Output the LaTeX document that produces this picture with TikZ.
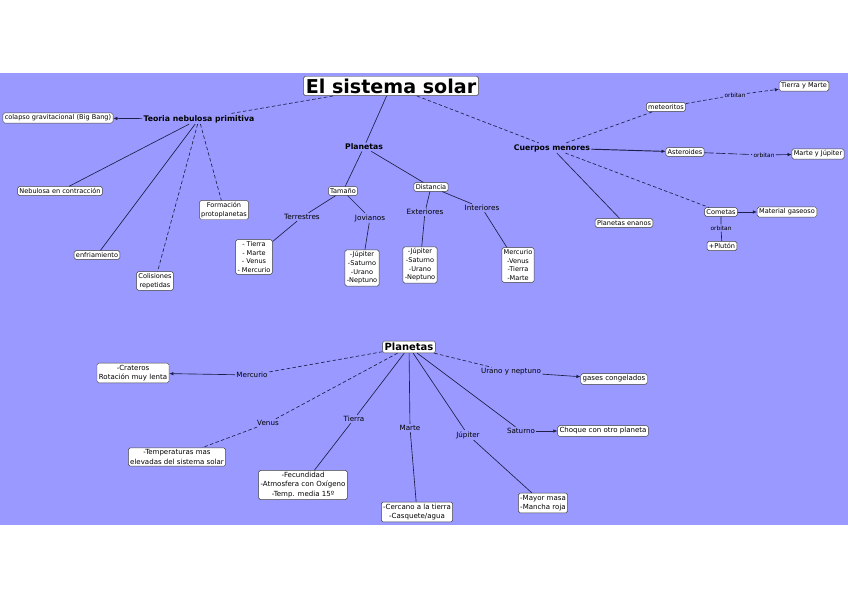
\documentclass[tikz,border=0pt]{standalone}
\usepackage{fontspec}
\setmainfont{DejaVu Sans}
\usetikzlibrary{arrows.meta}
\definecolor{fondo}{RGB}{153,153,255}
\definecolor{linea}{RGB}{30,30,70}

\begin{document}
\begin{tikzpicture}[x=0.03cm,y=-0.03cm,
	caja/.style={draw=black!75,fill=white,rounded corners=1.5pt,inner sep=1.6pt,align=center,font=\fontsize{5.6}{7.4}\selectfont},
	caja2/.style={caja,font=\fontsize{6}{8}\selectfont},
	titulo/.style={caja,inner sep=2pt,font=\fontsize{16.3}{17}\selectfont\bfseries},
	titulo2/.style={caja,inner sep=1.8pt,font=\fontsize{8.5}{9}\selectfont\bfseries},
	tema/.style={inner sep=1pt,font=\fontsize{6.6}{7}\selectfont\bfseries},
	etiq/.style={inner sep=1pt,font=\fontsize{6.2}{7}\selectfont},
	etiq2/.style={inner sep=1pt,font=\fontsize{5}{6}\selectfont},
	etiq3/.style={inner sep=1pt,font=\fontsize{6.1}{7}\selectfont},
	ln/.style={draw=linea,line width=0.55pt},
	lnd/.style={ln,densely dashed},
	flecha/.style={ln,-{Latex[length=3.5pt,width=3pt]}}]
	\useasboundingbox (0,0) rectangle (848,599);
	\fill[white] (0,0) rectangle (848,599);
	\fill[fondo] (0,73) rectangle (848,525);

	% arriba
	\node[titulo] (sol) at (391,86) {El sistema solar};
	\node[tema] (teoria) at (199,119) {Teoria nebulosa primitiva};
	\node[caja] (colapso) at (58,118) {colapso gravitacional (Big Bang)};
	\node[caja] (nebulosa) at (60,191) {Nebulosa en contracción};
	\node[caja] (enfria) at (97,255) {enfriamiento};
	\node[caja] (colision) at (155,281) {Colisiones\\repetidas};
	\node[caja] (formacion) at (224,210) {Formación\\protoplanetas};

	\node[tema] (planetas) at (364,147) {Planetas};
	\node[caja] (tamano) at (343,191) {Tamaño};
	\node[caja] (distancia) at (431,187) {Distancia};
	\node[etiq] (terrestres) at (302,217) {Terrestres};
	\node[etiq] (jovianos) at (370,218) {Jovianos};
	\node[etiq] (exteriores) at (425,212) {Exteriores};
	\node[etiq] (interiores) at (482,208) {Interiores};
	\node[caja] (rocosos) at (254,257) {- Tierra\\- Marte\\- Venus\\- Mercurio};
	\node[caja] (gaseosos) at (362,268) {-Júpiter\\-Saturno\\-Urano\\-Neptuno};
	\node[caja] (lejanos) at (420,265) {-Júpiter\\-Saturno\\-Urano\\-Neptuno};
	\node[caja] (cercanos) at (518,265) {Mercurio\\-Venus\\-Tierra\\-Marte};

	\node[tema] (cuerpos) at (552,148) {Cuerpos menores};
	\node[caja] (meteoritos) at (666,107) {meteoritos};
	\node[etiq2] (orb1) at (735,95) {orbitan};
	\node[caja] (tiemar) at (804,86) {Tierra y Marte};
	\node[caja] (asteroides) at (685,152) {Asteroides};
	\node[etiq2] (orb2) at (764,155) {orbitan};
	\node[caja] (marjup) at (818,154) {Marte y Júpiter};
	\node[caja] (enanos) at (624,223) {Planetas enanos};
	\node[caja] (cometas) at (721,212) {Cometas};
	\node[caja] (gaseoso) at (787,212) {Material gaseoso};
	\node[etiq2] (orb3) at (721,228) {orbitan};
	\node[caja] (pluton) at (722,246) {+Plutón};

	\draw[lnd] (sol) -- (teoria);
	\draw[flecha] (teoria) -- (colapso);
	\draw[ln] (teoria) -- (nebulosa);
	\draw[ln] (teoria) -- (enfria);
	\draw[lnd] (teoria) -- (colision);
	\draw[lnd] (teoria) -- (formacion);

	\draw[ln] (sol) -- (planetas) -- (tamano);
	\draw[ln] (planetas) -- (distancia);
	\draw[ln] (tamano) -- (terrestres) -- (rocosos);
	\draw[ln] (tamano) -- (jovianos) -- (gaseosos);
	\draw[ln] (distancia) -- (exteriores) -- (lejanos);
	\draw[ln] (distancia) -- (interiores) -- (cercanos);

	\draw[lnd] (sol) -- (cuerpos);
	\draw[lnd] (cuerpos) -- (meteoritos);
	\draw[lnd] (meteoritos) -- (orb1);
	\draw[flecha,densely dashed] (orb1) -- (tiemar);
	\draw[flecha,line width=0.8pt] (cuerpos) -- (asteroides);
	\draw[ln,dash pattern=on 8pt off 2pt] (asteroides) -- (orb2);
	\draw[flecha] (orb2) -- (marjup);
	\draw[ln] (cuerpos) -- (enanos);
	\draw[lnd] (cuerpos) -- (cometas);
	\draw[flecha] (cometas) -- (gaseoso);
	\draw[ln] (cometas) -- (orb3) -- (pluton);

	% abajo
	\node[titulo2] (planetas2) at (409,347) {Planetas};
	\node[etiq3] (mercurio) at (252,375) {Mercurio};
	\node[caja2] (crateres) at (133,373) {-Crateros\\Rotación muy lenta};
	\node[etiq3] (venus) at (268,423) {Venus};
	\node[caja2] (caliente) at (177,457) {-Temperaturas mas\\elevadas del sistema solar};
	\node[etiq3] (tierra) at (354,419) {Tierra};
	\node[caja2] (vida) at (303,485) {-Fecundidad\\-Atmosfera con Oxígeno\\-Temp. media 15º};
	\node[etiq3] (marte) at (410,428) {Marte};
	\node[caja2] (rojo) at (417,512) {-Cercano a la tierra\\-Casquete/agua};
	\node[etiq3] (jupiter) at (468,435) {Júpiter};
	\node[caja2] (gigante) at (543,503) {-Mayor masa\\-Mancha roja};
	\node[etiq3] (saturno) at (521,431) {Saturno};
	\node[caja2] (choque) at (603,431) {Choque con otro planeta};
	\node[etiq3] (urano) at (511,372) {Urano y neptuno};
	\node[caja2] (hielo) at (614,379) {gases congelados};

	\draw[lnd] (planetas2) -- (mercurio);
	\draw[flecha] (mercurio) -- (crateres);
	\draw[lnd] (planetas2) -- (venus) -- (caliente);
	\draw[ln] (planetas2) -- (tierra) -- (vida);
	\draw[ln] (planetas2) -- (marte) -- (rojo);
	\draw[ln] (planetas2) -- (jupiter) -- (gigante);
	\draw[ln] (planetas2) -- (saturno);
	\draw[flecha] (saturno) -- (choque);
	\draw[lnd] (planetas2) -- (urano);
	\draw[flecha] (urano) -- (hielo);
\end{tikzpicture}
\end{document}
